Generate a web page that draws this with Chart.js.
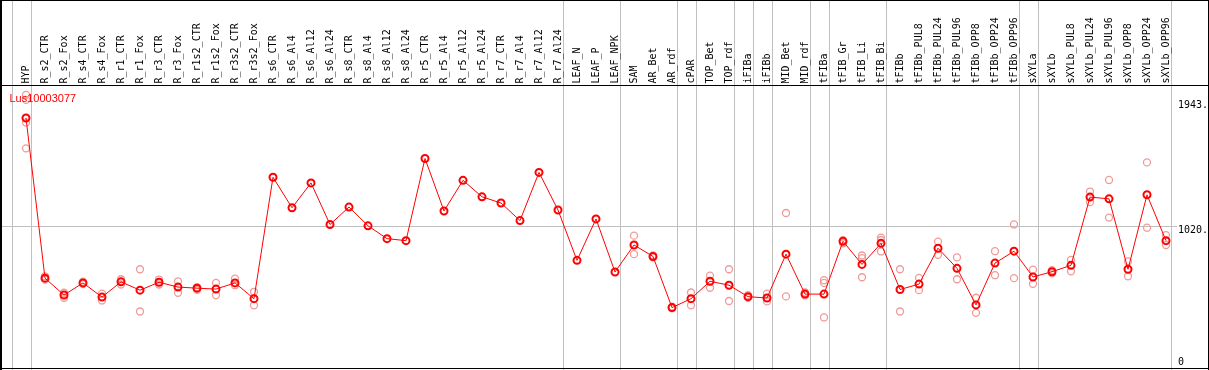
<!DOCTYPE html>
<html><head><meta charset="utf-8">
<script src="https://cdn.jsdelivr.net/npm/chart.js@4/dist/chart.umd.min.js"></script>
<style>html,body{margin:0;padding:0;background:#fff;overflow:hidden}canvas{display:block}</style>
</head><body>
<canvas id="c" width="1209" height="370"></canvas>
<script>
const geneName = 'Lus10003077';
const categories = ['HYP','R_s2_CTR','R_s2_Fox','R_s4_CTR','R_s4_Fox','R_r1_CTR','R_r1_Fox','R_r3_CTR','R_r3_Fox',
  'R_r1s2_CTR','R_r1s2_Fox','R_r3s2_CTR','R_r3s2_Fox','R_s6_CTR','R_s6_Al4','R_s6_Al12','R_s6_Al24',
  'R_s8_CTR','R_s8_Al4','R_s8_Al12','R_s8_Al24','R_r5_CTR','R_r5_Al4','R_r5_Al12','R_r5_Al24',
  'R_r7_CTR','R_r7_Al4','R_r7_Al12','R_r7_Al24','LEAF_N','LEAF_P','LEAF_NPK','SAM','AR_Bet','AR_rdf',
  'cPAR','TOP_Bet','TOP_rdf','iFIBa','iFIBb','MID_Bet','MID_rdf','tFIBa','tFIB_Gr','tFIB_Li','tFIB_Bi',
  'tFIBb','tFIBb_PUL8','tFIBb_PUL24','tFIBb_PUL96','tFIBb_OPP8','tFIBb_OPP24','tFIBb_OPP96',
  'sXYLa','sXYLb','sXYLb_PUL8','sXYLb_PUL24','sXYLb_PUL96','sXYLb_OPP8','sXYLb_OPP24','sXYLb_OPP96'];
const meanValues = [1823,636,511,601,496,609,547,606,570,562,555,601,484,1384,1158,1342,1034,
  1163,1024,929,914,1523,1134,1361,1239,1193,1063,1420,1141,768,1075,682,882,797,418,
  484,613,584,499,489,814,518,518,909,738,894,552,592,858,709,438,748,836,
  645,684,731,1237,1224,702,1254,914];
const replicateValues = [[1994,1958,1789,1598],[650,625],[528,491],[610,592],[521,471],[628,589],[702,389],[626,589],[613,528],
  [570,550],[601,511],[633,584],[535,435],[],[],[],[],
  [],[],[],[],[],[],[],[],
  [],[],[],[],[],[],[],[951,814],[805,790],[425,412],
  [530,435],[655,565],[702,467],[510,490],[521,464],[1119,501],[530,508],[621,601,345],[918,895],[804,784,643],[936,919,834],
  [702,389],[638,547],[907,809],[790,628],[491,379],[836,658],[1034,636],
  [699,594],[695,672],[772,687],[1278,1200],[1364,1085],[760,650],[1494,1010],[955,882]];
const groupSizes = [1,28,3,3,1,2,1,1,2,1,3,7,1,7];
const yTickValues = [0,1020,1943];
const yTickLabels = ['0','1020.','1943.'];
const gridValues = [1020];
const yMax = 2067.6;

const repPoints = [];
replicateValues.forEach((arr,i)=>arr.forEach(v=>repPoints.push({x:categories[i], y:v})));

const framePlugin = {
  id:'frame',
  beforeDatasetsDraw(chart){
    const ctx = chart.ctx, xs = chart.scales.x, ys = chart.scales.y;
    ctx.save();
    ctx.fillStyle = '#c0c0c0';
    // group separators
    let idx = -1;
    const bounds = [idx];
    groupSizes.forEach(s=>{idx += s; bounds.push(idx);});
    bounds.forEach(b=>{
      const px = Math.round(xs.getPixelForValue(b) + 4.5);
      ctx.fillRect(px, 0, 1, 370);
    });
    gridValues.forEach(v=>{
      const py = Math.round(ys.getPixelForValue(v));
      ctx.fillRect(0, py, 1177, 1);
    });
    ctx.restore();
  },
  afterDatasetsDraw(chart){
    const ctx = chart.ctx, xs = chart.scales.x, ys = chart.scales.y;
    ctx.save();
    ctx.fillStyle = '#000';
    ctx.font = '10px "DejaVu Sans Mono"';
    ctx.textAlign = 'left';
    ctx.textBaseline = 'alphabetic';
    categories.forEach((c,i)=>{
      const px = xs.getPixelForValue(i);
      ctx.save();
      ctx.translate(px + 2.5, 83.5);
      ctx.rotate(-Math.PI/2);
      ctx.fillText(c, 0, 0);
      ctx.restore();
    });
    ctx.textBaseline = 'top';
    yTickValues.forEach((v,i)=>{
      let py = ys.getPixelForValue(v) - 1;
      if (py > 357) py = 357;
      ctx.fillText(yTickLabels[i], 1178, py);
    });
    ctx.fillStyle = '#ff0000';
    ctx.font = '11px "Liberation Sans"';
    ctx.textBaseline = 'alphabetic';
    ctx.fillText(geneName, 9.5, 101.5);
    ctx.fillStyle = '#000';
    ctx.fillRect(0,0,1209,1);
    ctx.fillRect(0,85,1209,1);
    ctx.fillRect(0,0,2,370);
    ctx.fillRect(1208,0,1,370);
    ctx.fillRect(0,368,1209,1);
    ctx.restore();
  }
};

new Chart(document.getElementById('c').getContext('2d'), {
  type:'line',
  data:{labels:categories, datasets:[
    {label:'mean', data:meanValues, borderColor:'#ff0000', borderWidth:1, tension:0,
     pointRadius:3.5, pointBorderWidth:2, pointBorderColor:'#ff0000', pointBackgroundColor:'rgba(0,0,0,0)',
     order:1, clip:false},
    {label:'replicates', data:repPoints, showLine:false,
     pointRadius:3.5, pointBorderWidth:1.3, pointBorderColor:'#f09a9a', pointBackgroundColor:'rgba(0,0,0,0)',
     order:2, clip:false}
  ]},
  options:{responsive:false, animation:false, devicePixelRatio:1,
    layout:{padding:{left:26, right:43, top:85, bottom:3}},
    plugins:{legend:{display:false}, tooltip:{enabled:false}, title:{display:false}},
    scales:{
      x:{type:'category', display:false, offset:false},
      y:{display:false, min:0, max:yMax}
    }
  },
  plugins:[framePlugin]
});
</script>
</body></html>
